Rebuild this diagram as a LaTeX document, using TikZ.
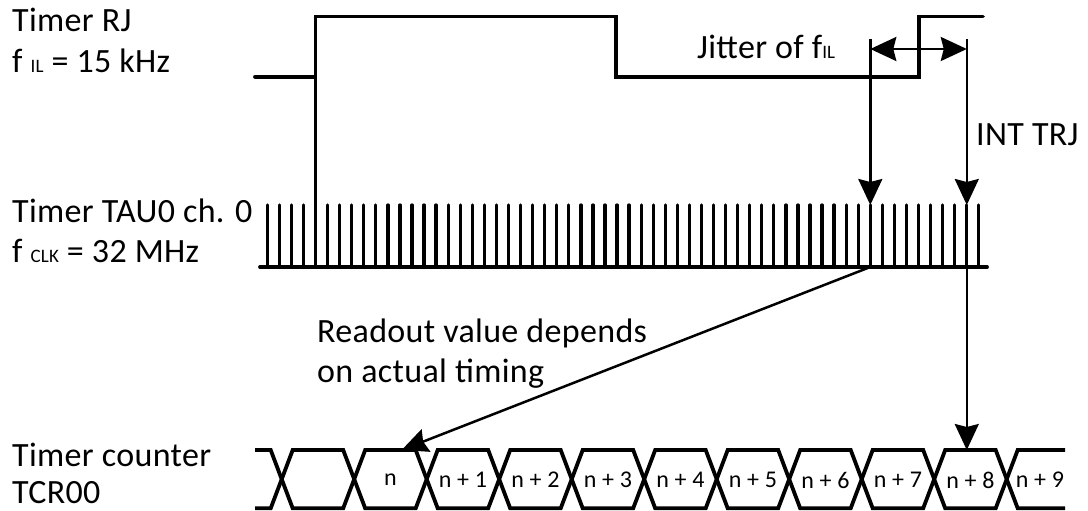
\documentclass[tikz,border=0pt]{standalone}
\usepackage{fontspec}
\setmainfont{Carlito}[LetterSpace=1]
\usetikzlibrary{arrows.meta}
\begin{document}
\begin{tikzpicture}[x=1pt,y=-1pt,
  sig/.style={line width=3.8pt, line join=miter, line cap=round},
  pulse/.style={line width=3.3pt, line cap=round},
  conn/.style={line width=2.5pt, -{Stealth[length=26pt,width=24pt,inset=3pt]}},
  dconn/.style={line width=2.5pt, {Stealth[length=26pt,width=24pt,inset=3pt]}-{Stealth[length=26pt,width=24pt,inset=3pt]}},
  lbl/.style={anchor=base west, inner sep=0pt, font=\fontsize{34}{40}\selectfont},
  buslbl/.style={anchor=center, inner sep=0pt, font=\fontsize{24}{28}\selectfont}]
\useasboundingbox (0,0) rectangle (1088,511);
\newcommand{\sm}[1]{{\fontsize{19}{20}\selectfont #1}}

% labels
\node[lbl] (rj1) at (12,32) {Timer RJ};
\node[lbl] (rj2) at (12,73) {f \sm{IL} = 15 kHz};
\node[lbl] (tau1) at (12,222) {Timer TAU0 ch. 0};
\node[lbl] (tau2) at (12,262) {f \sm{CLK} = 32 MHz};
\node[lbl] (tcr1) at (12,466) {Timer counter};
\node[lbl] (tcr2) at (12,503) {TCR00};
\node[lbl] (jit) at (697,59) {Jitter of f\sm{IL}};
\node[lbl] (int) at (976,145) {INT TRJ};
\node[lbl] (rd1) at (317,342) {Readout value depends};
\node[lbl] (rd2) at (317,382) {on actual timing};

% Timer RJ signal
\draw[sig] (255,76.7) -- (315.5,76.7) -- (315.5,16.5) -- (616,16.5) -- (616,76.7)
  -- (919.3,76.7) -- (919.3,16.5) -- (983,16.5);
\draw[pulse] (315.5,76.7) -- (315.5,267);

% TAU0 clock
\foreach \k in {0,...,59} {
  \draw[pulse] ({267.3+12.06*\k},205) -- ({267.3+12.06*\k},267);
}
\draw[sig] (260,267) -- (987,267);

% coordinates for connectors
\coordinate (p50) at ({267.3+12.06*50},0);
\coordinate (p58) at ({267.3+12.06*58},0);
\coordinate (ja) at (p50 |- 0,39.3);
\coordinate (jb) at (p58 |- 0,39.3);
\coordinate (ha) at (p50 |- 0,49);
\coordinate (hb) at (p58 |- 0,49);
\coordinate (ta) at (p50 |- 0,205);
\coordinate (tb) at (p58 |- 0,205);
\coordinate (ba) at (p50 |- 0,267);
\coordinate (bb) at (p58 |- 0,267);
\coordinate (bustop8) at (p58 |- 0,450);
\coordinate (busn) at (401.7,450);

\draw[dconn] (ha) -- (hb);
\draw[conn] (ja) -- (ta);
\draw[conn] (jb) -- (tb);
\draw[conn] (bb) -- (bustop8);
\draw[conn] (ba) -- (busn);

% bus
\def\top{450}\def\bot{508.3}\def\mid{479.2}\def\dd{11}
\draw[sig,line cap=butt] (255,\top) -- ({281.7-\dd},\top) -- (281.7,\mid) -- ({281.7-\dd},\bot) -- (255,\bot);
\foreach \k in {0,...,9} {
  \pgfmathsetmacro{\xa}{281.7+72.5*\k}
  \pgfmathsetmacro{\xb}{281.7+72.5*(\k+1)}
  \draw[sig,line join=miter] (\xa,\mid) -- ({\xa+\dd},\top) -- ({\xb-\dd},\top) -- (\xb,\mid)
    -- ({\xb-\dd},\bot) -- ({\xa+\dd},\bot) -- cycle;
}
\draw[sig,line cap=butt] (1065,\top) -- ({1006.7+\dd},\top) -- (1006.7,\mid) -- ({1006.7+\dd},\bot) -- (1065,\bot);

\node[buslbl] (b0) at ({281.7+72.5*1.5},480) {n};
\node[buslbl] (b1) at ({281.7+72.5*2.5},480) {n + 1};
\node[buslbl] (b2) at ({281.7+72.5*3.5},480) {n + 2};
\node[buslbl] (b3) at ({281.7+72.5*4.5},480) {n + 3};
\node[buslbl] (b4) at ({281.7+72.5*5.5},480) {n + 4};
\node[buslbl] (b5) at ({281.7+72.5*6.5},480) {n + 5};
\node[buslbl] (b6) at ({281.7+72.5*7.5},480) {n + 6};
\node[buslbl] (b7) at ({281.7+72.5*8.5},480) {n + 7};
\node[buslbl] (b8) at ({281.7+72.5*9.5},480) {n + 8};
\node[buslbl] (b9) at (1040,480) {n + 9};
\end{tikzpicture}
\end{document}
